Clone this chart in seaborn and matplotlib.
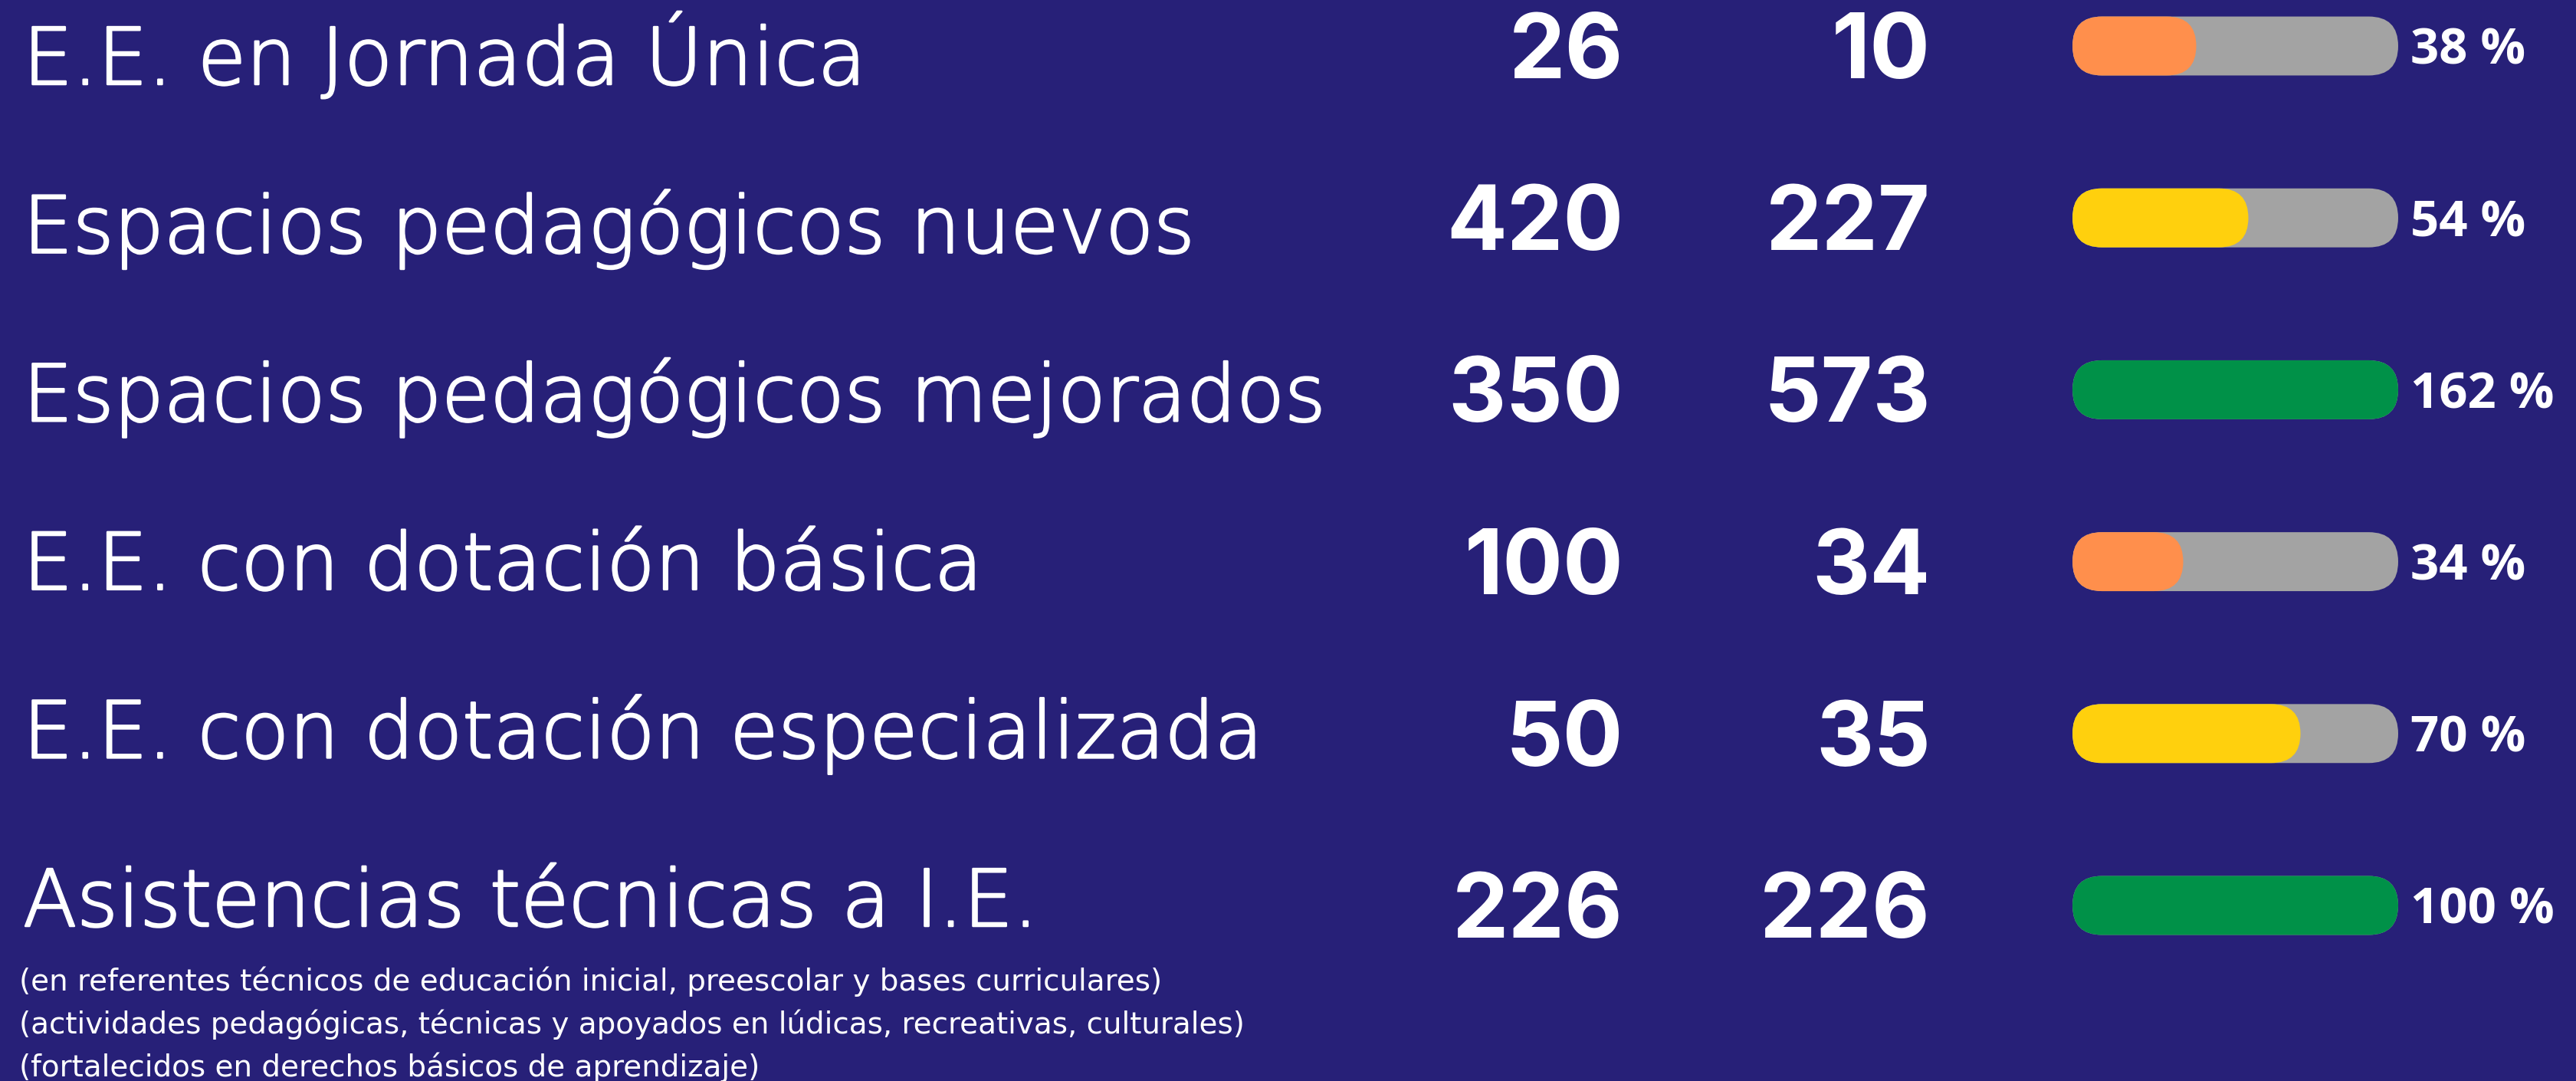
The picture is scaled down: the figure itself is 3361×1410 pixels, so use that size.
import matplotlib.pyplot as plt
import matplotlib.patheffects as pe
import seaborn as sns
import pandas as pd
from matplotlib.patches import FancyBboxPatch


# datos del tablero
indicadores = [
    "E.E. en Jornada Única",
    "Espacios pedagógicos nuevos",
    "Espacios pedagógicos mejorados",
    "E.E. con dotación básica",
    "E.E. con dotación especializada",
    "Asistencias técnicas a I.E.",
]
metas = [26, 420, 350, 100, 50, 226]
logros = [10, 227, 573, 34, 35, 226]
porcentajes = [38, 54, 162, 34, 70, 100]
notas = [
    "(en referentes técnicos de educación inicial, preescolar y bases curriculares)",
    "(actividades pedagógicas, técnicas y apoyados en lúdicas, recreativas, culturales)",
    "(fortalecidos en derechos básicos de aprendizaje)",
]

FONDO = "#272078"
GRIS = "#A3A3A3"


def color_avance(p):
    # semaforo segun porcentaje de cumplimiento
    if p >= 100:
        return "#009148"
    if p >= 50:
        return "#FFD00D"
    return "#FF8F4C"


df = pd.DataFrame({
    "indicador": indicadores,
    "meta": metas,
    "logro": logros,
    "pct": porcentajes,
})
df["relleno"] = df["pct"].clip(upper=100)
df["total"] = 100

sns.set_style("white")
plt.rcParams["font.family"] = ["DejaVu Sans"]

W, H = 3362, 1410
fig = plt.figure(figsize=(W / 100, H / 100), dpi=100, facecolor=FONDO)

# filas: centro de la fila 0 en 60 px, paso de 224.2 px
paso = 224.2
y_lim = ((H - 60) / paso, -60 / paso)

ax = fig.add_axes([0, 0, 1, 1])
ax.set_facecolor(FONDO)
ax.set_xlim(0, W)
ax.set_ylim(*y_lim)
ax.axis("off")

# barras de progreso
ax_bar = fig.add_axes([2704 / W, 0, 425 / W, 1])
ax_bar.patch.set_alpha(0)

sns.barplot(data=df, y="indicador", x="total", order=indicadores,
            color=GRIS, saturation=1, width=0.343, ax=ax_bar, orient="h")
sns.barplot(data=df, y="indicador", x="relleno", order=indicadores,
            hue="indicador", palette=[color_avance(p) for p in porcentajes],
            saturation=1, legend=False, width=0.343, ax=ax_bar, orient="h")
ax_bar.set_xlim(0, 100)
ax_bar.set_ylim(*y_lim)
ax_bar.axis("off")

# redondear extremos de las barras
p0 = ax_bar.transData.transform((0, 0))
p1 = ax_bar.transData.transform((1, 1))
aspecto = abs(p1[0] - p0[0]) / abs(p1[1] - p0[1])
for rect in list(ax_bar.patches):
    x, y = rect.get_x(), rect.get_y()
    w, h = rect.get_width(), rect.get_height()
    r = abs(h) / 2 / aspecto
    caja = FancyBboxPatch(
        (x, y), w, h,
        boxstyle=f"round,pad=0,rounding_size={r}",
        mutation_aspect=aspecto,
        facecolor=rect.get_facecolor(), edgecolor="none",
        clip_on=False,
    )
    rect.remove()
    ax_bar.add_patch(caja)

# trazo extra para engrosar la fuente fina
grosor = [pe.withStroke(linewidth=1.8, foreground="white")]

# textos de cada fila
for i, row in df.iterrows():
    ax.text(30, 0.223 + 0.9795 * i, row["indicador"], color="white",
            fontsize=74, va="baseline", ha="left",
            family=["DejaVu Sans"], fontweight="light",
            path_effects=grosor)
    ax.text(2118, i + 0.187, f"{row['meta']}", color="white",
            fontsize=84, va="baseline", ha="right",
            family=["Inter", "DejaVu Sans"], fontweight="bold")
    ax.text(2519, i + 0.187, f"{row['logro']}", color="white",
            fontsize=84, va="baseline", ha="right",
            family=["Inter", "DejaVu Sans"], fontweight="bold")
    ax.text(3145, i + 0.107, f"{row['pct']} %", color="white",
            fontsize=47, va="baseline", ha="left",
            family=["Open Sans", "DejaVu Sans"], fontweight="bold")

# notas de la ultima fila
for k, nota in enumerate(notas):
    ax.text(25, (1292 - 60 + 56 * k) / paso, nota, color="white",
            fontsize=28, va="baseline", ha="left",
            family=["DejaVu Sans"])

fig.savefig("out.png", dpi=100, facecolor=FONDO)
